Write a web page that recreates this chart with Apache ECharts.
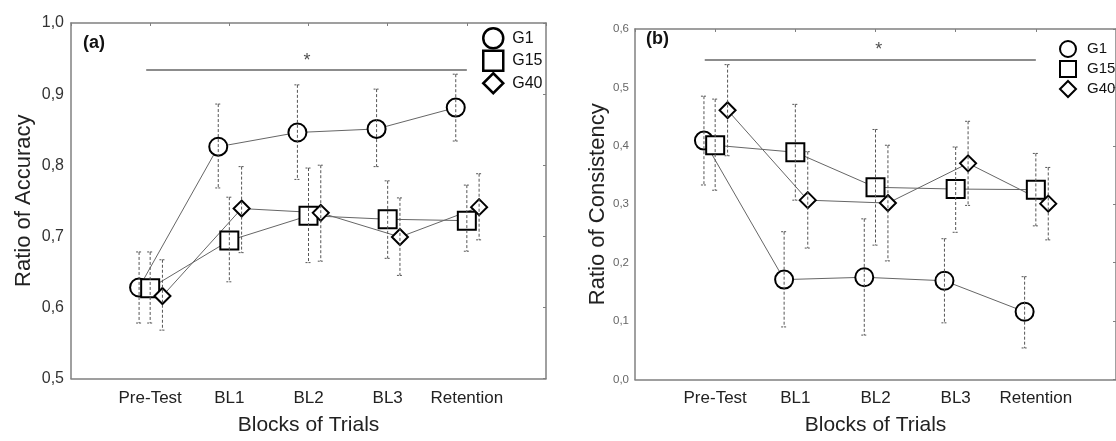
<!DOCTYPE html>
<html>
<head>
<meta charset="utf-8">
<script src="https://cdn.jsdelivr.net/npm/echarts@6/dist/echarts.min.js"></script>
<style>html,body{margin:0;padding:0;background:#fff}#c{width:1116px;height:441px}</style>
</head>
<body>
<div id="c"></div>
<script>
// ---- data ----
const categories = ['Pre-Test', 'BL1', 'BL2', 'BL3', 'Retention'];
const groups = ['G1', 'G15', 'G40'];
const accTickLabels = ['0,5', '0,6', '0,7', '0,8', '0,9', '1,0'];
const conTickLabels = ['0,0', '0,1', '0,2', '0,3', '0,4', '0,5', '0,6'];

// (a) Ratio of Accuracy
const accG1   = [0.628, 0.826, 0.846, 0.851, 0.881];
const accG1Lo = [0.578, 0.768, 0.780, 0.798, 0.834];
const accG1Hi = [0.678, 0.886, 0.913, 0.907, 0.928];
const accG15   = [0.627, 0.694, 0.729, 0.724, 0.722];
const accG15Lo = [0.578, 0.636, 0.663, 0.669, 0.679];
const accG15Hi = [0.678, 0.755, 0.796, 0.778, 0.772];
const accG40   = [0.616, 0.739, 0.733, 0.699, 0.741];
const accG40Lo = [0.568, 0.677, 0.665, 0.645, 0.695];
const accG40Hi = [0.667, 0.798, 0.800, 0.754, 0.788];

// (b) Ratio of Consistency
const conG1   = [0.409, 0.171, 0.175, 0.169, 0.116];
const conG1Lo = [0.333, 0.090, 0.076, 0.097, 0.054];
const conG1Hi = [0.485, 0.253, 0.275, 0.241, 0.176];
const conG15   = [0.401, 0.389, 0.329, 0.326, 0.325];
const conG15Lo = [0.324, 0.307, 0.230, 0.252, 0.263];
const conG15Hi = [0.480, 0.471, 0.428, 0.398, 0.387];
const conG40   = [0.461, 0.307, 0.302, 0.370, 0.301];
const conG40Lo = [0.383, 0.225, 0.203, 0.298, 0.239];
const conG40Hi = [0.539, 0.390, 0.401, 0.442, 0.363];

// significance bars: [xStart, xEnd, y] and asterisk [x, y]
const sigA = [-0.05, 4.0, 0.934];
const sigAStar = [1.98, 0.947];
const sigB = [-0.13, 4.0, 0.547];
const sigBStar = [2.04, 0.564];

// ---- styling ----
const FONT = '"Liberation Sans", Arial, sans-serif';
const offsets = [-0.14, 0, 0.155];
const symbols = ['circle', 'rect', 'diamond'];
const symSizes = [18, 18, 16];
const axisCol = '#808080';

const chart = echarts.init(document.getElementById('c'), null, {renderer: 'canvas'});

function errRender(params, api) {
  const x = api.value(0), lo = api.value(1), hi = api.value(2);
  const p1 = api.coord([x, hi]), p2 = api.coord([x, lo]);
  const cap = 3;
  const st = {stroke: '#555', lineWidth: 1};
  return {type: 'group', children: [
    {type: 'line', shape: {x1: p1[0], y1: p1[1], x2: p2[0], y2: p2[1]}, style: Object.assign({lineDash: [3, 2]}, st)},
    {type: 'line', shape: {x1: p1[0] - cap, y1: p1[1], x2: p1[0] + cap, y2: p1[1]}, style: Object.assign({lineDash: [2, 1]}, st)},
    {type: 'line', shape: {x1: p2[0] - cap, y1: p2[1], x2: p2[0] + cap, y2: p2[1]}, style: Object.assign({lineDash: [2, 1]}, st)}
  ]};
}

function buildPanel(means, los, his, xi, yi) {
  const out = [];
  groups.forEach((g, k) => {
    out.push({
      name: g, type: 'line', xAxisIndex: xi, yAxisIndex: yi,
      data: means[k].map((v, i) => [i + offsets[k], v]),
      symbol: symbols[k], symbolSize: symSizes[k], showSymbol: true,
      lineStyle: {color: '#666', width: 1},
      itemStyle: {color: '#fff', borderColor: '#000', borderWidth: 2},
      z: 3, silent: true
    });
    out.push({
      type: 'custom', xAxisIndex: xi, yAxisIndex: yi,
      data: means[k].map((v, i) => [i + offsets[k], los[k][i], his[k][i]]),
      encode: {x: 0, y: [1, 2]}, renderItem: errRender, z: 4, silent: true
    });
  });
  return out;
}

function sigSeries(sig, star, xi, yi, fs) {
  return [
    {type: 'line', xAxisIndex: xi, yAxisIndex: yi, data: [[sig[0], sig[2]], [sig[1], sig[2]]],
     showSymbol: false, lineStyle: {color: '#666', width: 1.5}, z: 2, silent: true},
    {type: 'scatter', xAxisIndex: xi, yAxisIndex: yi, data: [star], symbolSize: 1,
     itemStyle: {color: 'rgba(0,0,0,0)'},
     label: {show: true, position: 'inside', formatter: '*', fontSize: fs, color: '#222', fontFamily: FONT}, silent: true}
  ];
}

function xBottom(gi, labelSize, nameSize, nameGap, margin) {
  return {type: 'value', gridIndex: gi, min: -1, max: 5, interval: 1, position: 'bottom',
    axisLine: {onZero: false, lineStyle: {color: axisCol, width: 1.5}}, axisTick: {show: false}, splitLine: {show: false},
    axisLabel: {formatter: v => (categories[v] !== undefined ? categories[v] : ''), fontSize: labelSize, color: '#222', fontFamily: FONT, margin: margin, showMinLabel: false, showMaxLabel: false},
    name: 'Blocks of Trials', nameLocation: 'middle', nameGap: nameGap,
    nameTextStyle: {fontSize: nameSize, color: '#222', fontFamily: FONT}};
}
function xTop(gi) {
  return {type: 'value', gridIndex: gi, min: -1, max: 5, interval: 1, position: 'top',
    axisLine: {onZero: false, lineStyle: {color: axisCol, width: 1.5}}, axisTick: {show: true, inside: true, length: 3, lineStyle: {color: axisCol}},
    axisLabel: {show: false}, splitLine: {show: false}};
}
function yLeft(gi, min, max, labels, name, labelSize, labelCol, nameGap, margin) {
  return {type: 'value', gridIndex: gi, min: min, max: max, interval: 0.1, position: 'left',
    axisLine: {show: true, onZero: false, lineStyle: {color: axisCol, width: 1.5}}, axisTick: {show: false}, splitLine: {show: false},
    axisLabel: {formatter: v => labels[Math.round((v - min) / 0.1)], fontSize: labelSize, color: labelCol, fontFamily: FONT, margin: margin},
    name: name, nameLocation: 'middle', nameGap: nameGap,
    nameTextStyle: {fontSize: 22, color: '#222', fontFamily: FONT}};
}
function yRight(gi, min, max) {
  return {type: 'value', gridIndex: gi, min: min, max: max, interval: 0.1, position: 'right',
    axisLine: {show: true, onZero: false, lineStyle: {color: axisCol, width: 1.5}}, axisTick: {show: true, inside: true, length: 3, lineStyle: {color: axisCol}},
    axisLabel: {show: false}, splitLine: {show: false}};
}

const series = [].concat(
  buildPanel([accG1, accG15, accG40], [accG1Lo, accG15Lo, accG40Lo], [accG1Hi, accG15Hi, accG40Hi], 0, 0),
  buildPanel([conG1, conG15, conG40], [conG1Lo, conG15Lo, conG40Lo], [conG1Hi, conG15Hi, conG40Hi], 2, 2),
  sigSeries(sigA, sigAStar, 0, 0, 18),
  sigSeries(sigB, sigBStar, 2, 2, 18)
);

const legendData = groups.map((g, k) => ({name: g, icon: symbols[k]}));

chart.setOption({
  animation: false,
  backgroundColor: '#fff',
  textStyle: {fontFamily: FONT},
  title: [
    {text: '(a)', left: 83, top: 34, padding: 0, textStyle: {fontSize: 18, fontWeight: 'bold', color: '#111', fontFamily: FONT}},
    {text: '(b)', left: 646, top: 30, padding: 0, textStyle: {fontSize: 18, fontWeight: 'bold', color: '#111', fontFamily: FONT}}
  ],
  legend: [
    {data: legendData, orient: 'vertical', left: 477, top: 22, itemWidth: 20, itemHeight: 20, itemGap: 0,
     selectedMode: false, textStyle: {fontSize: 16, color: '#111', fontFamily: FONT, padding: [0, 0, 0, 4]},
     itemStyle: {color: '#fff', borderColor: '#000', borderWidth: 2.5}},
    {data: legendData, orient: 'vertical', left: 1054, top: 35, itemWidth: 16, itemHeight: 16, itemGap: 2,
     selectedMode: false, textStyle: {fontSize: 15, color: '#111', fontFamily: FONT, padding: [0, 0, 0, 6]},
     itemStyle: {color: '#fff', borderColor: '#000', borderWidth: 2}}
  ],
  grid: [
    {left: 71, top: 23, width: 475, height: 364, containLabel: false},
    {left: 635, top: 29, width: 492, height: 354, containLabel: false}
  ],
  xAxis: [xBottom(0, 17, 21, 36.5, 11), xTop(0), xBottom(1, 17, 21, 35.5, 10), xTop(1)],
  yAxis: [
    yLeft(0, 0.5, 1.0, accTickLabels, 'Ratio of Accuracy', 16, '#333', 36, 7),
    yRight(0, 0.5, 1.0),
    yLeft(1, 0.0, 0.6, conTickLabels, 'Ratio of Consistency', 11.5, '#666', 15, 6),
    yRight(1, 0.0, 0.6)
  ],
  series: series
});
</script>
</body>
</html>
